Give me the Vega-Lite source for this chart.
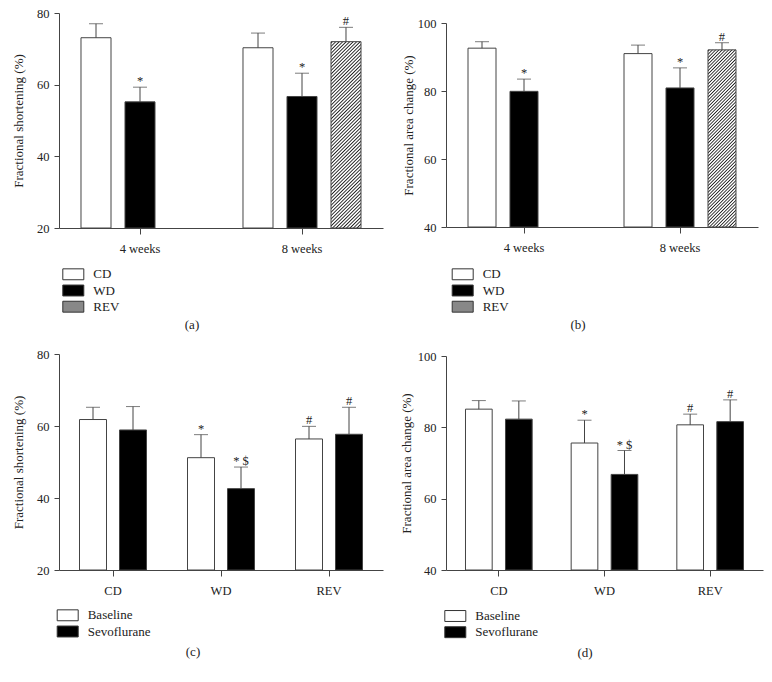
{
"$schema": "https://vega.github.io/schema/vega-lite/v6.json",
"background": "white",
"padding": {"left": 12, "top": 7, "right": 5, "bottom": 5},
"params": [
 {"name": "hatchBar", "value": {"gradient": "linear", "x1": 0, "y1": 0, "x2": 0.18, "y2": 1.13, "stops": [
{"offset":0,"color":"#fff"},{"offset":0.006,"color":"#222"},{"offset":0.012,"color":"#fff"},
{"offset":0.016,"color":"#fff"},{"offset":0.022,"color":"#222"},{"offset":0.028,"color":"#fff"},
{"offset":0.032,"color":"#fff"},{"offset":0.038,"color":"#222"},{"offset":0.044,"color":"#fff"},
{"offset":0.048,"color":"#fff"},{"offset":0.054,"color":"#222"},{"offset":0.060,"color":"#fff"},
{"offset":0.064,"color":"#fff"},{"offset":0.070,"color":"#222"},{"offset":0.076,"color":"#fff"},
{"offset":0.080,"color":"#fff"},{"offset":0.086,"color":"#222"},{"offset":0.092,"color":"#fff"},
{"offset":0.096,"color":"#fff"},{"offset":0.102,"color":"#222"},{"offset":0.108,"color":"#fff"},
{"offset":0.112,"color":"#fff"},{"offset":0.118,"color":"#222"},{"offset":0.124,"color":"#fff"},
{"offset":0.128,"color":"#fff"},{"offset":0.134,"color":"#222"},{"offset":0.140,"color":"#fff"},
{"offset":0.144,"color":"#fff"},{"offset":0.150,"color":"#222"},{"offset":0.156,"color":"#fff"},
{"offset":0.160,"color":"#fff"},{"offset":0.166,"color":"#222"},{"offset":0.172,"color":"#fff"},
{"offset":0.176,"color":"#fff"},{"offset":0.182,"color":"#222"},{"offset":0.188,"color":"#fff"},
{"offset":0.192,"color":"#fff"},{"offset":0.198,"color":"#222"},{"offset":0.204,"color":"#fff"},
{"offset":0.208,"color":"#fff"},{"offset":0.214,"color":"#222"},{"offset":0.220,"color":"#fff"},
{"offset":0.224,"color":"#fff"},{"offset":0.230,"color":"#222"},{"offset":0.236,"color":"#fff"},
{"offset":0.240,"color":"#fff"},{"offset":0.246,"color":"#222"},{"offset":0.252,"color":"#fff"},
{"offset":0.256,"color":"#fff"},{"offset":0.262,"color":"#222"},{"offset":0.268,"color":"#fff"},
{"offset":0.272,"color":"#fff"},{"offset":0.278,"color":"#222"},{"offset":0.284,"color":"#fff"},
{"offset":0.288,"color":"#fff"},{"offset":0.294,"color":"#222"},{"offset":0.300,"color":"#fff"},
{"offset":0.304,"color":"#fff"},{"offset":0.310,"color":"#222"},{"offset":0.316,"color":"#fff"},
{"offset":0.320,"color":"#fff"},{"offset":0.326,"color":"#222"},{"offset":0.332,"color":"#fff"},
{"offset":0.336,"color":"#fff"},{"offset":0.342,"color":"#222"},{"offset":0.348,"color":"#fff"},
{"offset":0.352,"color":"#fff"},{"offset":0.358,"color":"#222"},{"offset":0.364,"color":"#fff"},
{"offset":0.368,"color":"#fff"},{"offset":0.374,"color":"#222"},{"offset":0.380,"color":"#fff"},
{"offset":0.384,"color":"#fff"},{"offset":0.390,"color":"#222"},{"offset":0.396,"color":"#fff"},
{"offset":0.400,"color":"#fff"},{"offset":0.406,"color":"#222"},{"offset":0.412,"color":"#fff"},
{"offset":0.416,"color":"#fff"},{"offset":0.422,"color":"#222"},{"offset":0.428,"color":"#fff"},
{"offset":0.432,"color":"#fff"},{"offset":0.438,"color":"#222"},{"offset":0.444,"color":"#fff"},
{"offset":0.448,"color":"#fff"},{"offset":0.454,"color":"#222"},{"offset":0.460,"color":"#fff"},
{"offset":0.464,"color":"#fff"},{"offset":0.470,"color":"#222"},{"offset":0.476,"color":"#fff"},
{"offset":0.480,"color":"#fff"},{"offset":0.486,"color":"#222"},{"offset":0.492,"color":"#fff"},
{"offset":0.496,"color":"#fff"},{"offset":0.502,"color":"#222"},{"offset":0.508,"color":"#fff"},
{"offset":0.512,"color":"#fff"},{"offset":0.518,"color":"#222"},{"offset":0.524,"color":"#fff"},
{"offset":0.528,"color":"#fff"},{"offset":0.534,"color":"#222"},{"offset":0.540,"color":"#fff"},
{"offset":0.544,"color":"#fff"},{"offset":0.550,"color":"#222"},{"offset":0.556,"color":"#fff"},
{"offset":0.560,"color":"#fff"},{"offset":0.566,"color":"#222"},{"offset":0.572,"color":"#fff"},
{"offset":0.576,"color":"#fff"},{"offset":0.582,"color":"#222"},{"offset":0.588,"color":"#fff"},
{"offset":0.592,"color":"#fff"},{"offset":0.598,"color":"#222"},{"offset":0.604,"color":"#fff"},
{"offset":0.608,"color":"#fff"},{"offset":0.614,"color":"#222"},{"offset":0.620,"color":"#fff"},
{"offset":0.624,"color":"#fff"},{"offset":0.630,"color":"#222"},{"offset":0.636,"color":"#fff"},
{"offset":0.640,"color":"#fff"},{"offset":0.646,"color":"#222"},{"offset":0.652,"color":"#fff"},
{"offset":0.656,"color":"#fff"},{"offset":0.662,"color":"#222"},{"offset":0.668,"color":"#fff"},
{"offset":0.672,"color":"#fff"},{"offset":0.678,"color":"#222"},{"offset":0.684,"color":"#fff"},
{"offset":0.688,"color":"#fff"},{"offset":0.694,"color":"#222"},{"offset":0.700,"color":"#fff"},
{"offset":0.704,"color":"#fff"},{"offset":0.710,"color":"#222"},{"offset":0.716,"color":"#fff"},
{"offset":0.720,"color":"#fff"},{"offset":0.726,"color":"#222"},{"offset":0.732,"color":"#fff"},
{"offset":0.736,"color":"#fff"},{"offset":0.742,"color":"#222"},{"offset":0.748,"color":"#fff"},
{"offset":0.752,"color":"#fff"},{"offset":0.758,"color":"#222"},{"offset":0.764,"color":"#fff"},
{"offset":0.768,"color":"#fff"},{"offset":0.774,"color":"#222"},{"offset":0.780,"color":"#fff"},
{"offset":0.784,"color":"#fff"},{"offset":0.790,"color":"#222"},{"offset":0.796,"color":"#fff"},
{"offset":0.800,"color":"#fff"},{"offset":0.806,"color":"#222"},{"offset":0.812,"color":"#fff"},
{"offset":0.816,"color":"#fff"},{"offset":0.822,"color":"#222"},{"offset":0.828,"color":"#fff"},
{"offset":0.832,"color":"#fff"},{"offset":0.838,"color":"#222"},{"offset":0.844,"color":"#fff"},
{"offset":0.848,"color":"#fff"},{"offset":0.854,"color":"#222"},{"offset":0.860,"color":"#fff"},
{"offset":0.864,"color":"#fff"},{"offset":0.870,"color":"#222"},{"offset":0.876,"color":"#fff"},
{"offset":0.880,"color":"#fff"},{"offset":0.886,"color":"#222"},{"offset":0.892,"color":"#fff"},
{"offset":0.896,"color":"#fff"},{"offset":0.902,"color":"#222"},{"offset":0.908,"color":"#fff"},
{"offset":0.912,"color":"#fff"},{"offset":0.918,"color":"#222"},{"offset":0.924,"color":"#fff"},
{"offset":0.928,"color":"#fff"},{"offset":0.934,"color":"#222"},{"offset":0.940,"color":"#fff"},
{"offset":0.944,"color":"#fff"},{"offset":0.950,"color":"#222"},{"offset":0.956,"color":"#fff"},
{"offset":0.960,"color":"#fff"},{"offset":0.966,"color":"#222"},{"offset":0.972,"color":"#fff"},
{"offset":0.976,"color":"#fff"},{"offset":0.982,"color":"#222"},{"offset":0.988,"color":"#fff"},
{"offset":1,"color":"#fff"}
 ]}},
 {"name": "hatchLeg", "value": {"gradient": "linear", "x1": 0, "y1": 0, "x2": 1.2, "y2": 0.62, "stops": [
{"offset":0,"color":"#fff"},{"offset":0.02,"color":"#111"},{"offset":0.05,"color":"#111"},{"offset":0.07,"color":"#fff"},
{"offset":0.11,"color":"#fff"},{"offset":0.13,"color":"#111"},{"offset":0.16,"color":"#111"},{"offset":0.18,"color":"#fff"},
{"offset":0.22,"color":"#fff"},{"offset":0.24,"color":"#111"},{"offset":0.27,"color":"#111"},{"offset":0.29,"color":"#fff"},
{"offset":0.33,"color":"#fff"},{"offset":0.35,"color":"#111"},{"offset":0.38,"color":"#111"},{"offset":0.40,"color":"#fff"},
{"offset":0.44,"color":"#fff"},{"offset":0.46,"color":"#111"},{"offset":0.49,"color":"#111"},{"offset":0.51,"color":"#fff"},
{"offset":0.55,"color":"#fff"},{"offset":0.57,"color":"#111"},{"offset":0.60,"color":"#111"},{"offset":0.62,"color":"#fff"},
{"offset":0.66,"color":"#fff"},{"offset":0.68,"color":"#111"},{"offset":0.71,"color":"#111"},{"offset":0.73,"color":"#fff"},
{"offset":0.77,"color":"#fff"},{"offset":0.79,"color":"#111"},{"offset":0.82,"color":"#111"},{"offset":0.84,"color":"#fff"},
{"offset":0.88,"color":"#fff"},{"offset":0.90,"color":"#111"},{"offset":0.93,"color":"#111"},{"offset":0.95,"color":"#fff"},
{"offset":1,"color":"#fff"}
 ]}}
],
"config": {
 "font": "Liberation Serif",
 "view": {"stroke": null},
 "axis": {"domainColor": "#444", "tickColor": "#444", "labelColor": "#222", "titleColor": "#222", "labelFont": "Liberation Serif", "titleFont": "Liberation Serif", "labelFontSize": 12.5, "titleFontSize": 13, "titleFontWeight": "normal", "grid": false},
 "axisX": {"tickSize": 6, "labelPadding": 8, "labelAngle": 0},
 "axisY": {"tickSize": 5, "labelPadding": 5, "titlePadding": 11.5},
 "legend": {"orient": "none", "direction": "vertical", "padding": 0, "symbolStrokeColor": "#333", "symbolStrokeWidth": 1, "labelFont": "Liberation Serif", "labelFontSize": 13, "labelColor": "#222", "labelOffset": 13.5, "rowPadding": 1.2},
 "title": {"font": "Liberation Serif", "fontSize": 13, "fontWeight": "normal", "color": "#222"},
 "text": {"font": "Liberation Serif"}
},
"resolve": {"scale": {"fill": "independent", "xOffset": "independent"}, "legend": {"fill": "independent"}},
"columns": 2,
"bounds": "flush",
"spacing": {"row": 126, "column": 63},
"concat": [
 {
  "width": 324, "height": 215,
  "title": {"text": "(a)", "orient": "bottom", "anchor": "middle", "frame": "group", "dx": -29, "offset": 4},
  "data": {"values": [
   {"p": "4 weeks", "g": "CD", "v": 73.1, "hi": 77.0, "s": ""},
   {"p": "4 weeks", "g": "WD", "v": 55.2, "hi": 59.3, "s": "*"},
   {"p": "8 weeks", "g": "CD", "v": 70.3, "hi": 74.4, "s": ""},
   {"p": "8 weeks", "g": "WD", "v": 56.7, "hi": 63.2, "s": "*"},
   {"p": "8 weeks", "g": "REV", "v": 72.0, "hi": 76.0, "s": "#"}
  ]},
  "layer": [
   {"transform": [{"filter": "datum.g !== 'REV'"}],
    "mark": {"type": "bar", "stroke": "#444", "strokeWidth": 1},
    "encoding": {
     "x": {"field": "p", "type": "nominal", "scale": {"domain": ["4 weeks", "8 weeks"], "paddingInner": 0, "paddingOuter": 0}, "axis": {"title": null}},
     "xOffset": {"field": "g", "type": "nominal", "scale": {"domain": ["CD", "WD", "REV"], "paddingInner": 0.318, "paddingOuter": 0.5}},
     "y": {"field": "v", "type": "quantitative", "scale": {"domain": [20, 80], "nice": false, "zero": false}, "axis": {"values": [20, 40, 60, 80], "title": "Fractional shortening (%)"}},
     "y2": {"datum": 20},
     "fill": {"field": "g", "type": "nominal", "scale": {"domain": ["CD", "WD", "REV"], "range": ["#fff", "#000", "#888"]},
      "legend": {"title": null, "legendX": 7.8, "legendY": 254.8, "symbolType": "M-2,-1.04H2V1.04H-2Z", "symbolSize": 110.25,
       "encode": {"symbols": {"update": {"fill": {"signal": "datum.value === 'REV' ? hatchLeg : datum.value === 'WD' ? '#000' : '#fff'"}, "stroke": {"value": "#333"}, "strokeWidth": {"value": 1}}}}}}
    }},
   {"transform": [{"filter": "datum.g === 'REV'"}],
    "mark": {"type": "bar", "stroke": "#444", "strokeWidth": 1, "fill": {"expr": "hatchBar"}},
    "encoding": {
     "x": {"field": "p", "type": "nominal", "scale": {"domain": ["4 weeks", "8 weeks"], "paddingInner": 0, "paddingOuter": 0}},
     "xOffset": {"field": "g", "type": "nominal", "scale": {"domain": ["CD", "WD", "REV"], "paddingInner": 0.318, "paddingOuter": 0.5}},
     "y": {"field": "v", "type": "quantitative", "scale": {"domain": [20, 80], "nice": false, "zero": false}},
     "y2": {"datum": 20}
    }},
   {"mark": {"type": "rule", "color": "#444", "strokeWidth": 1},
    "encoding": {
     "x": {"field": "p", "type": "nominal", "scale": {"domain": ["4 weeks", "8 weeks"], "paddingInner": 0, "paddingOuter": 0}},
     "xOffset": {"field": "g", "type": "nominal", "scale": {"domain": ["CD", "WD", "REV"], "paddingInner": 0.318, "paddingOuter": 0.5}},
     "y": {"field": "v", "type": "quantitative", "scale": {"domain": [20, 80], "nice": false, "zero": false}},
     "y2": {"field": "hi"}
    }},
   {"mark": {"type": "tick", "orient": "horizontal", "size": 14, "thickness": 1, "color": "#444"},
    "encoding": {
     "x": {"field": "p", "type": "nominal", "scale": {"domain": ["4 weeks", "8 weeks"], "paddingInner": 0, "paddingOuter": 0}},
     "xOffset": {"field": "g", "type": "nominal", "scale": {"domain": ["CD", "WD", "REV"], "paddingInner": 0.318, "paddingOuter": 0.5}},
     "y": {"field": "hi", "type": "quantitative", "scale": {"domain": [20, 80], "nice": false, "zero": false}}
    }},
   {"mark": {"type": "text", "baseline": "alphabetic", "dy": -2, "fontSize": 12.5, "color": "#222"},
    "encoding": {
     "x": {"field": "p", "type": "nominal", "scale": {"domain": ["4 weeks", "8 weeks"], "paddingInner": 0, "paddingOuter": 0}},
     "xOffset": {"field": "g", "type": "nominal", "scale": {"domain": ["CD", "WD", "REV"], "paddingInner": 0.318, "paddingOuter": 0.5}},
     "y": {"field": "hi", "type": "quantitative", "scale": {"domain": [20, 80], "nice": false, "zero": false}},
     "text": {"field": "s"}
    }}
  ]
 },
 {
  "width": 312, "height": 214,
  "title": {"text": "(b)", "orient": "bottom", "anchor": "middle", "frame": "group", "dx": -24, "offset": 4},
  "data": {"values": [
   {"p": "4 weeks", "g": "CD", "v": 92.6, "hi": 94.5, "s": ""},
   {"p": "4 weeks", "g": "WD", "v": 79.9, "hi": 83.5, "s": "*"},
   {"p": "8 weeks", "g": "CD", "v": 91.0, "hi": 93.5, "s": ""},
   {"p": "8 weeks", "g": "WD", "v": 80.9, "hi": 86.8, "s": "*"},
   {"p": "8 weeks", "g": "REV", "v": 92.1, "hi": 94.2, "s": "#"}
  ]},
  "layer": [
   {"transform": [{"filter": "datum.g !== 'REV'"}],
    "mark": {"type": "bar", "stroke": "#444", "strokeWidth": 1},
    "encoding": {
     "x": {"field": "p", "type": "nominal", "scale": {"domain": ["4 weeks", "8 weeks"], "paddingInner": 0, "paddingOuter": 0}, "axis": {"title": null}},
     "xOffset": {"field": "g", "type": "nominal", "scale": {"domain": ["CD", "WD", "REV"], "paddingInner": 0.333, "paddingOuter": 0.524}},
     "y": {"field": "v", "type": "quantitative", "scale": {"domain": [40, 100], "range": [214, 10], "nice": false, "zero": false}, "axis": {"values": [40, 60, 80, 100], "title": "Fractional area change (%)", "titlePadding": 2}},
     "y2": {"datum": 40},
     "fill": {"field": "g", "type": "nominal", "scale": {"domain": ["CD", "WD", "REV"], "range": ["#fff", "#000", "#888"]},
      "legend": {"title": null, "legendX": 10.2, "legendY": 254.8, "symbolType": "M-2,-1.04H2V1.04H-2Z", "symbolSize": 110.25,
       "encode": {"symbols": {"update": {"fill": {"signal": "datum.value === 'REV' ? hatchLeg : datum.value === 'WD' ? '#000' : '#fff'"}, "stroke": {"value": "#333"}, "strokeWidth": {"value": 1}}}}}}
    }},
   {"transform": [{"filter": "datum.g === 'REV'"}],
    "mark": {"type": "bar", "stroke": "#444", "strokeWidth": 1, "fill": {"expr": "hatchBar"}},
    "encoding": {
     "x": {"field": "p", "type": "nominal", "scale": {"domain": ["4 weeks", "8 weeks"], "paddingInner": 0, "paddingOuter": 0}},
     "xOffset": {"field": "g", "type": "nominal", "scale": {"domain": ["CD", "WD", "REV"], "paddingInner": 0.333, "paddingOuter": 0.524}},
     "y": {"field": "v", "type": "quantitative", "scale": {"domain": [40, 100], "range": [214, 10], "nice": false, "zero": false}},
     "y2": {"datum": 40}
    }},
   {"mark": {"type": "rule", "color": "#444", "strokeWidth": 1},
    "encoding": {
     "x": {"field": "p", "type": "nominal", "scale": {"domain": ["4 weeks", "8 weeks"], "paddingInner": 0, "paddingOuter": 0}},
     "xOffset": {"field": "g", "type": "nominal", "scale": {"domain": ["CD", "WD", "REV"], "paddingInner": 0.333, "paddingOuter": 0.524}},
     "y": {"field": "v", "type": "quantitative", "scale": {"domain": [40, 100], "range": [214, 10], "nice": false, "zero": false}},
     "y2": {"field": "hi"}
    }},
   {"mark": {"type": "tick", "orient": "horizontal", "size": 14, "thickness": 1, "color": "#444"},
    "encoding": {
     "x": {"field": "p", "type": "nominal", "scale": {"domain": ["4 weeks", "8 weeks"], "paddingInner": 0, "paddingOuter": 0}},
     "xOffset": {"field": "g", "type": "nominal", "scale": {"domain": ["CD", "WD", "REV"], "paddingInner": 0.333, "paddingOuter": 0.524}},
     "y": {"field": "hi", "type": "quantitative", "scale": {"domain": [40, 100], "range": [214, 10], "nice": false, "zero": false}}
    }},
   {"mark": {"type": "text", "baseline": "alphabetic", "dy": -2, "fontSize": 12.5, "color": "#222"},
    "encoding": {
     "x": {"field": "p", "type": "nominal", "scale": {"domain": ["4 weeks", "8 weeks"], "paddingInner": 0, "paddingOuter": 0}},
     "xOffset": {"field": "g", "type": "nominal", "scale": {"domain": ["CD", "WD", "REV"], "paddingInner": 0.333, "paddingOuter": 0.524}},
     "y": {"field": "hi", "type": "quantitative", "scale": {"domain": [40, 100], "range": [214, 10], "nice": false, "zero": false}},
     "text": {"field": "s"}
    }}
  ]
 },
 {
  "width": 324, "height": 216,
  "title": {"text": "(c)", "orient": "bottom", "anchor": "middle", "frame": "group", "dx": -28, "offset": 6},
  "data": {"values": [
   {"p": "CD", "g": "Baseline", "v": 61.8, "hi": 65.2, "s": ""},
   {"p": "CD", "g": "Sevoflurane", "v": 58.9, "hi": 65.4, "s": ""},
   {"p": "WD", "g": "Baseline", "v": 51.2, "hi": 57.6, "s": "*"},
   {"p": "WD", "g": "Sevoflurane", "v": 42.6, "hi": 48.6, "s": "* $"},
   {"p": "REV", "g": "Baseline", "v": 56.4, "hi": 59.9, "s": "#"},
   {"p": "REV", "g": "Sevoflurane", "v": 57.7, "hi": 65.2, "s": "#"}
  ]},
  "layer": [
   {"mark": {"type": "bar", "stroke": "#444", "strokeWidth": 1},
    "encoding": {
     "x": {"field": "p", "type": "nominal", "scale": {"domain": ["CD", "WD", "REV"], "paddingInner": 0, "paddingOuter": 0}, "axis": {"title": null}},
     "xOffset": {"field": "g", "type": "nominal", "scale": {"domain": ["Baseline", "Sevoflurane"], "paddingInner": 0.325, "paddingOuter": 0.5125}},
     "y": {"field": "v", "type": "quantitative", "scale": {"domain": [20, 80], "nice": false, "zero": false}, "axis": {"values": [20, 40, 60, 80], "title": "Fractional shortening (%)"}},
     "y2": {"datum": 20},
     "fill": {"field": "g", "type": "nominal", "scale": {"domain": ["Baseline", "Sevoflurane"], "range": ["#fff", "#000"]},
      "legend": {"title": null, "legendX": 2.2, "legendY": 254.8, "symbolType": "M-2,-1.04H2V1.04H-2Z", "symbolSize": 110.25,
       "encode": {"symbols": {"update": {"stroke": {"value": "#333"}, "strokeWidth": {"value": 1}}}}}}
    }},
   {"mark": {"type": "rule", "color": "#444", "strokeWidth": 1},
    "encoding": {
     "x": {"field": "p", "type": "nominal", "scale": {"domain": ["CD", "WD", "REV"], "paddingInner": 0, "paddingOuter": 0}},
     "xOffset": {"field": "g", "type": "nominal", "scale": {"domain": ["Baseline", "Sevoflurane"], "paddingInner": 0.325, "paddingOuter": 0.5125}},
     "y": {"field": "v", "type": "quantitative", "scale": {"domain": [20, 80], "nice": false, "zero": false}},
     "y2": {"field": "hi"}
    }},
   {"mark": {"type": "tick", "orient": "horizontal", "size": 14, "thickness": 1, "color": "#444"},
    "encoding": {
     "x": {"field": "p", "type": "nominal", "scale": {"domain": ["CD", "WD", "REV"], "paddingInner": 0, "paddingOuter": 0}},
     "xOffset": {"field": "g", "type": "nominal", "scale": {"domain": ["Baseline", "Sevoflurane"], "paddingInner": 0.325, "paddingOuter": 0.5125}},
     "y": {"field": "hi", "type": "quantitative", "scale": {"domain": [20, 80], "nice": false, "zero": false}}
    }},
   {"mark": {"type": "text", "baseline": "alphabetic", "dy": -2, "fontSize": 12.5, "color": "#222"},
    "encoding": {
     "x": {"field": "p", "type": "nominal", "scale": {"domain": ["CD", "WD", "REV"], "paddingInner": 0, "paddingOuter": 0}},
     "xOffset": {"field": "g", "type": "nominal", "scale": {"domain": ["Baseline", "Sevoflurane"], "paddingInner": 0.325, "paddingOuter": 0.5125}},
     "y": {"field": "hi", "type": "quantitative", "scale": {"domain": [20, 80], "nice": false, "zero": false}},
     "text": {"field": "s"}
    }}
  ]
 },
 {
  "width": 317, "height": 216,
  "title": {"text": "(d)", "orient": "bottom", "anchor": "middle", "frame": "group", "dx": -19.5, "offset": 6},
  "data": {"values": [
   {"p": "CD", "g": "Baseline", "v": 85.1, "hi": 87.5, "s": ""},
   {"p": "CD", "g": "Sevoflurane", "v": 82.3, "hi": 87.4, "s": ""},
   {"p": "WD", "g": "Baseline", "v": 75.6, "hi": 82.0, "s": "*"},
   {"p": "WD", "g": "Sevoflurane", "v": 66.8, "hi": 73.5, "s": "* $"},
   {"p": "REV", "g": "Baseline", "v": 80.7, "hi": 83.7, "s": "#"},
   {"p": "REV", "g": "Sevoflurane", "v": 81.6, "hi": 87.7, "s": "#"}
  ]},
  "layer": [
   {"mark": {"type": "bar", "stroke": "#444", "strokeWidth": 1},
    "encoding": {
     "x": {"field": "p", "type": "nominal", "scale": {"domain": ["CD", "WD", "REV"], "paddingInner": 0, "paddingOuter": 0}, "axis": {"title": null}},
     "xOffset": {"field": "g", "type": "nominal", "scale": {"domain": ["Baseline", "Sevoflurane"], "paddingInner": 0.333, "paddingOuter": 0.4875}},
     "y": {"field": "v", "type": "quantitative", "scale": {"domain": [40, 100], "range": [216, 2], "nice": false, "zero": false}, "axis": {"values": [40, 60, 80, 100], "title": "Fractional area change (%)", "titlePadding": 4}},
     "y2": {"datum": 40},
     "fill": {"field": "g", "type": "nominal", "scale": {"domain": ["Baseline", "Sevoflurane"], "range": ["#fff", "#000"]},
      "legend": {"title": null, "legendX": 2.8, "legendY": 255.5, "symbolType": "M-2,-1.04H2V1.04H-2Z", "symbolSize": 110.25,
       "encode": {"symbols": {"update": {"stroke": {"value": "#333"}, "strokeWidth": {"value": 1}}}}}}
    }},
   {"mark": {"type": "rule", "color": "#444", "strokeWidth": 1},
    "encoding": {
     "x": {"field": "p", "type": "nominal", "scale": {"domain": ["CD", "WD", "REV"], "paddingInner": 0, "paddingOuter": 0}},
     "xOffset": {"field": "g", "type": "nominal", "scale": {"domain": ["Baseline", "Sevoflurane"], "paddingInner": 0.333, "paddingOuter": 0.4875}},
     "y": {"field": "v", "type": "quantitative", "scale": {"domain": [40, 100], "range": [216, 2], "nice": false, "zero": false}},
     "y2": {"field": "hi"}
    }},
   {"mark": {"type": "tick", "orient": "horizontal", "size": 14, "thickness": 1, "color": "#444"},
    "encoding": {
     "x": {"field": "p", "type": "nominal", "scale": {"domain": ["CD", "WD", "REV"], "paddingInner": 0, "paddingOuter": 0}},
     "xOffset": {"field": "g", "type": "nominal", "scale": {"domain": ["Baseline", "Sevoflurane"], "paddingInner": 0.333, "paddingOuter": 0.4875}},
     "y": {"field": "hi", "type": "quantitative", "scale": {"domain": [40, 100], "range": [216, 2], "nice": false, "zero": false}}
    }},
   {"mark": {"type": "text", "baseline": "alphabetic", "dy": -2, "fontSize": 12.5, "color": "#222"},
    "encoding": {
     "x": {"field": "p", "type": "nominal", "scale": {"domain": ["CD", "WD", "REV"], "paddingInner": 0, "paddingOuter": 0}},
     "xOffset": {"field": "g", "type": "nominal", "scale": {"domain": ["Baseline", "Sevoflurane"], "paddingInner": 0.333, "paddingOuter": 0.4875}},
     "y": {"field": "hi", "type": "quantitative", "scale": {"domain": [40, 100], "range": [216, 2], "nice": false, "zero": false}},
     "text": {"field": "s"}
    }}
  ]
 }
]
}
